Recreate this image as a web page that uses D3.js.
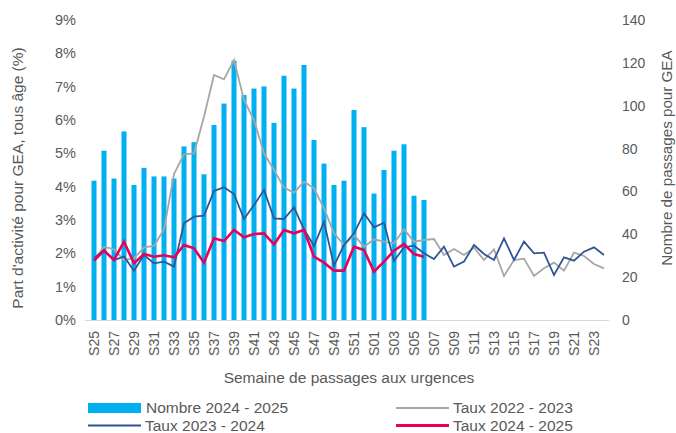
<!DOCTYPE html>
<html><head><meta charset="utf-8">
<script src="https://cdn.jsdelivr.net/npm/d3@7"></script>
<style>body{margin:0;background:#fff}svg{display:block;font-family:"Liberation Sans",Arial,sans-serif}</style>
</head><body><svg id="c" width="676" height="433"></svg>
<script>
const weeks = ["S25","S26","S27","S28","S29","S30","S31","S32","S33","S34","S35","S36","S37","S38","S39","S40","S41","S42","S43","S44","S45","S46","S47","S48","S49","S50","S51","S52","S01","S02","S03","S04","S05","S06","S07","S08","S09","S10","S11","S12","S13","S14","S15","S16","S17","S18","S19","S20","S21","S22","S23","S24"];
const nombre2425 = [65,79,66,88,63,71,67,67,66,81,83,68,91,101,121,105,108,109,92,114,108,119,84,73,63,65,98,90,59,70,79,82,58,56];
const taux2223 = [1.8,2.2,2.12,1.8,1.85,2.18,2.22,2.72,4.38,4.97,5.0,6.1,7.35,7.22,7.8,6.6,6.0,5.0,4.5,3.97,3.82,4.15,3.95,3.35,2.6,2.25,2.55,2.2,2.42,2.35,2.3,2.72,2.35,2.4,2.43,1.95,2.13,1.95,2.17,1.8,2.12,1.32,1.8,1.84,1.32,1.55,1.72,1.48,2.02,1.92,1.68,1.55];
const taux2324 = [1.85,2.1,1.8,1.9,1.48,1.95,1.7,1.75,1.6,2.9,3.1,3.13,3.87,3.98,3.78,3.03,3.45,3.9,3.05,3.03,3.38,2.72,2.22,2.95,1.63,2.25,2.6,3.2,2.78,2.92,1.77,2.18,2.23,2.0,1.83,2.2,1.6,1.75,2.25,1.98,1.8,2.45,1.8,2.35,2.0,2.02,1.35,1.88,1.78,2.05,2.18,1.95];
const taux2425 = [1.78,2.08,1.8,2.35,1.7,1.98,1.9,1.94,1.88,2.25,2.15,1.72,2.45,2.37,2.7,2.48,2.58,2.6,2.27,2.7,2.6,2.7,1.9,1.72,1.48,1.48,2.2,2.1,1.45,1.75,2.08,2.28,1.98,1.9];
const leftTicks = [0,1,2,3,4,5,6,7,8,9];
const rightTicks = [0,20,40,60,80,100,120,140];

const svg = d3.select("#c");
const txt = "#595959";
const ff = "Liberation Sans, Arial, sans-serif";
const x = d3.scaleBand().domain(weeks).range([89,609]).padding(0);
const yL = d3.scaleLinear().domain([0,9]).range([320,20]);
const yR = d3.scaleLinear().domain([0,140]).range([320,20]);
const cx = w => x(w) + x.bandwidth()/2;

// bars
svg.append("g").selectAll("rect").data(nombre2425).join("rect")
  .attr("x",(d,i)=>cx(weeks[i])-2.5).attr("width",5)
  .attr("y",d=>yR(d)).attr("height",d=>yR(0)-yR(d)).attr("fill","#00B0F0");

// baseline
svg.append("line").attr("x1",85).attr("x2",609).attr("y1",320.5).attr("y2",320.5).attr("stroke","#D9D9D9").attr("stroke-width",1);

const line = d3.line().x((d,i)=>cx(weeks[i])).y(d=>yL(d));
svg.append("path").datum(taux2223).attr("d",line).attr("fill","none").attr("stroke","#A6A6A6").attr("stroke-width",1.8);
svg.append("path").datum(taux2324).attr("d",line).attr("fill","none").attr("stroke","#2F5597").attr("stroke-width",1.8);
svg.append("path").datum(taux2425).attr("d",line).attr("fill","none").attr("stroke","#E8005A").attr("stroke-width",2.6);

// left axis
const gl = svg.append("g").attr("transform","translate(76,0)")
  .call(d3.axisLeft(yL).tickValues(leftTicks).tickFormat(d=>d+"%").tickSize(0).tickPadding(0));
gl.select(".domain").remove();
gl.selectAll("text").attr("fill",txt).style("font-size","14.5px").style("font-family",ff);

// right axis
const gr = svg.append("g").attr("transform","translate(622,0)")
  .call(d3.axisRight(yR).tickValues(rightTicks).tickSize(0).tickPadding(0));
gr.select(".domain").remove();
gr.selectAll("text").attr("fill",txt).style("font-size","14px").style("font-family",ff);

// x axis labels (every other)
const gx = svg.append("g").attr("transform","translate(0,331)")
  .call(d3.axisBottom(x).tickValues(weeks.filter((w,i)=>i%2===0)).tickSize(0).tickPadding(0));
gx.select(".domain").remove();
gx.selectAll("text").attr("fill",txt).style("font-size","14px").style("font-family",ff)
  .attr("transform","rotate(-90)").attr("text-anchor","end").attr("x",0).attr("y",0).attr("dy","0.35em");

// titles
svg.append("text").attr("transform","translate(23,178) rotate(-90)").attr("text-anchor","middle")
  .attr("fill",txt).style("font-size","15.5px").text("Part d'activité pour GEA, tous âge (%)");
svg.append("text").attr("transform","translate(672,158) rotate(-90)").attr("text-anchor","middle")
  .attr("fill",txt).style("font-size","15.2px").text("Nombre de passages pour GEA");
svg.append("text").attr("x",349).attr("y",383).attr("text-anchor","middle")
  .attr("fill",txt).style("font-size","15.5px").text("Semaine de passages aux urgences");

// legend
const leg = [
  {t:"Nombre 2024 - 2025",type:"bar",c:"#00B0F0",x:88,y:408},
  {t:"Taux 2022 - 2023",type:"line",c:"#A6A6A6",w:2.2,x:396,y:408},
  {t:"Taux 2023 - 2024",type:"line",c:"#2F5597",w:2.2,x:88,y:425.5},
  {t:"Taux 2024 - 2025",type:"line",c:"#E8005A",w:2.8,x:396,y:425.5}
];
const lg = svg.append("g").selectAll("g").data(leg).join("g").attr("transform",d=>`translate(${d.x},${d.y})`);
lg.filter(d=>d.type==="bar").append("rect").attr("x",0).attr("y",-5).attr("width",53).attr("height",10).attr("fill",d=>d.c);
lg.filter(d=>d.type==="line").append("line").attr("x1",0).attr("x2",53).attr("y1",0).attr("y2",0).attr("stroke",d=>d.c).attr("stroke-width",d=>d.w);
lg.append("text").attr("x",d=>d.type==="bar"?58:57).attr("y",0).attr("dy","0.35em").attr("fill",txt).style("font-size","15.5px").style("font-family",ff).text(d=>d.t);
</script></body></html>
